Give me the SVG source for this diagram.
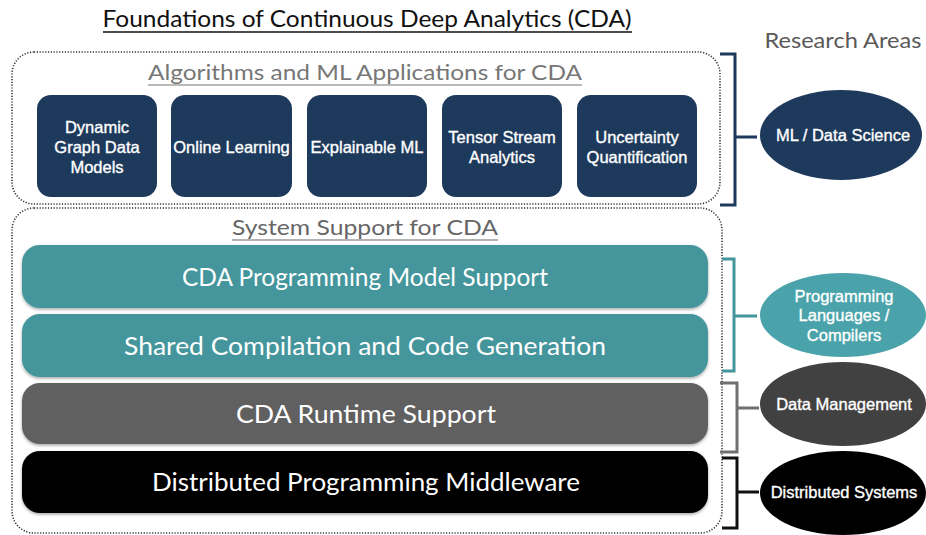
<svg xmlns="http://www.w3.org/2000/svg" width="926" height="535" viewBox="0 0 926 535">
<style>
.hum{font-family:"Lato","Open Sans","Liberation Sans",sans-serif}
.sans{font-family:"Liberation Sans","Arial",sans-serif;font-size:16.5px;fill:#fff;stroke:#fff;stroke-width:0.35;text-anchor:middle}
.bar{font-family:"Lato","Open Sans",sans-serif;font-size:25px;fill:#fff;text-anchor:middle}
.dot{fill:none;stroke:#333;stroke-width:1.6;stroke-dasharray:1.2 1.6}
.box{fill:#1d3a5c}
.br{fill:none;stroke-width:3}
</style>
<defs>
<filter id="sh" x="-5%" y="-20%" width="110%" height="140%">
<feDropShadow dx="0" dy="1.5" stdDeviation="1.5" flood-color="#000" flood-opacity="0.35"/>
</filter>
</defs>
<rect width="926" height="535" fill="#fff"/>

<g id="title">
<text class="hum" x="367" y="27" font-size="24" text-anchor="middle" fill="#111" textLength="529" lengthAdjust="spacingAndGlyphs">Foundations of Continuous Deep Analytics (CDA)</text>
<line x1="103" y1="32" x2="632" y2="32" stroke="#111" stroke-width="1.3"/>
</g>
<g id="research-areas">
<text class="hum" x="843" y="48" font-size="22" text-anchor="middle" fill="#595959" textLength="157" lengthAdjust="spacingAndGlyphs">Research Areas</text>
</g>

<g id="algorithms-group">
<rect class="dot" x="12" y="52" width="708" height="152" rx="22"/>
<text class="hum" x="365" y="80" font-size="22" text-anchor="middle" fill="#777" textLength="434" lengthAdjust="spacingAndGlyphs">Algorithms and ML Applications for CDA</text>
<line x1="148" y1="85" x2="582" y2="85" stroke="#777" stroke-width="1.2"/>
</g>

<g id="dynamic-graph"><rect class="box" x="37" y="95" width="120" height="102" rx="14"/>
<text class="sans" x="97" y="133">Dynamic</text><text class="sans" x="97" y="153">Graph Data</text><text class="sans" x="97" y="173">Models</text></g>
<g id="online-learning"><rect class="box" x="171" y="95" width="121" height="102" rx="14"/>
<text class="sans" x="231.5" y="153">Online Learning</text></g>
<g id="explainable-ml"><rect class="box" x="307" y="95" width="120" height="102" rx="14"/>
<text class="sans" x="367" y="153">Explainable ML</text></g>
<g id="tensor-stream"><rect class="box" x="442" y="95" width="120" height="102" rx="14"/>
<text class="sans" x="502" y="143">Tensor Stream</text><text class="sans" x="502" y="163">Analytics</text></g>
<g id="uncertainty"><rect class="box" x="577" y="95" width="120" height="102" rx="14"/>
<text class="sans" x="637" y="143">Uncertainty</text><text class="sans" x="637" y="163">Quantification</text></g>

<g id="system-group">
<rect class="dot" x="12" y="208" width="710" height="325" rx="22"/>
<text class="hum" x="365" y="235" font-size="22" text-anchor="middle" fill="#666" textLength="266" lengthAdjust="spacingAndGlyphs">System Support for CDA</text>
<line x1="232" y1="240" x2="498" y2="240" stroke="#666" stroke-width="1.2"/>
</g>

<g id="programming-model"><rect x="22" y="245" width="686" height="63" rx="18" fill="#44969c" filter="url(#sh)"/>
<text class="bar" x="365" y="286" textLength="366" lengthAdjust="spacingAndGlyphs">CDA Programming Model Support</text></g>
<g id="shared-compilation"><rect x="22" y="314" width="686" height="63" rx="18" fill="#44969c" filter="url(#sh)"/>
<text class="bar" x="365" y="355" textLength="482" lengthAdjust="spacingAndGlyphs">Shared Compilation and Code Generation</text></g>
<g id="runtime-support"><rect x="22" y="383" width="686" height="61" rx="18" fill="#606060" filter="url(#sh)"/>
<text class="bar" x="366" y="423" textLength="260" lengthAdjust="spacingAndGlyphs">CDA Runtime Support</text></g>
<g id="middleware"><rect x="22" y="451" width="686" height="62" rx="18" fill="#000" filter="url(#sh)"/>
<text class="bar" x="366" y="491" textLength="428" lengthAdjust="spacingAndGlyphs">Distributed Programming Middleware</text></g>

<g id="connectors">
<path class="br" stroke="#1d3a5c" d="M720 54 H735 V205 H720 M735 137 H757"/>
<path class="br" stroke="#44969c" d="M722 259 H734 V371 H722 M734 316 H757"/>
<path class="br" stroke="#707070" d="M720 383 H737 V452 H720 M737 408 H759"/>
<path class="br" stroke="#111" d="M722 458 H737 V528 H722 M737 492 H759"/>
</g>

<g id="ml-data-science"><ellipse cx="841" cy="135" rx="81" ry="45" fill="#1d3a5c"/>
<text class="sans" x="843" y="141">ML / Data Science</text></g>
<g id="pl-compilers"><ellipse cx="843" cy="315" rx="83" ry="42" fill="#4aa3aa"/>
<text class="sans" x="844" y="302">Programming</text><text class="sans" x="844" y="321">Languages /</text><text class="sans" x="844" y="341">Compilers</text></g>
<g id="data-management"><ellipse cx="843" cy="404" rx="83" ry="42" fill="#414141"/>
<text class="sans" x="844" y="410">Data Management</text></g>
<g id="distributed-systems"><ellipse cx="843" cy="493" rx="83" ry="42" fill="#000"/>
<text class="sans" x="844" y="498">Distributed Systems</text></g>
</svg>
